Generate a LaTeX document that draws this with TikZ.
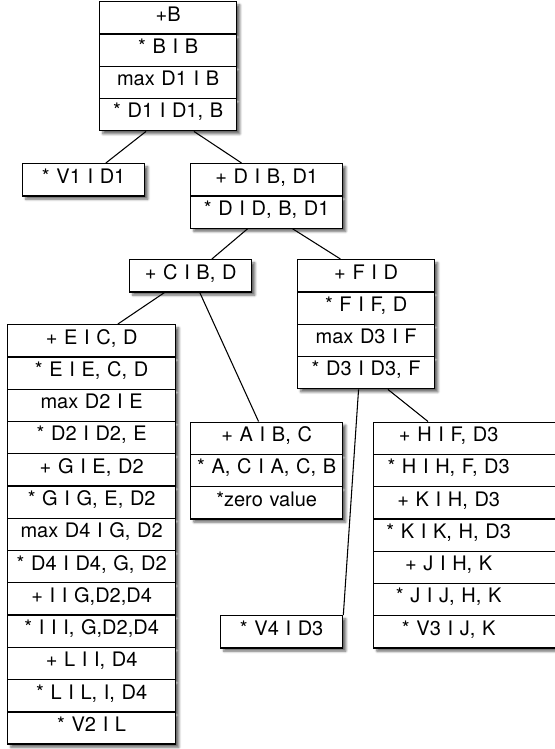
\documentclass[tikz,border=0pt]{standalone}
\usepackage{fontspec}
\setmainfont{TeX Gyre Heros}
\usetikzlibrary{shapes.multipart,shadows.blur,calc}

\newcommand{\rw}[1]{\rule[-9.1pt]{0pt}{23.2pt}#1}
\newcommand{\hw}[1]{\noindent\makebox[112.5pt]{\rule[-9.1pt]{0pt}{23.2pt}#1}}

\begin{document}
\begin{tikzpicture}[x=0.75pt,y=-0.75pt,font=\fontsize{15}{18}\selectfont,
  tbl/.style={draw,line width=1pt,fill=white,rectangle split,rectangle split parts=#1,
    inner xsep=0pt,inner ysep=0pt,align=center,anchor=north west,
    blur shadow={shadow xshift=2.4pt,shadow yshift=-2.4pt,shadow blur radius=1.8pt,
      shadow blur steps=6,shadow opacity=60}},
  edge/.style={line width=0.8pt}]
  \useasboundingbox (0,0) rectangle (554,749);
  % root and first level
  \node[tbl=4,text width=102.75pt] (b) at (99,1)
    {\rw{+B}\nodepart{two}\rw{* B I B}\nodepart{three}\rw{max D1 I B}\nodepart{four}\rw{* D1 I D1, B}};
  \node[tbl=1,text width=91.5pt] (v1) at (22,163) {\rw{* V1 I D1}};
  \node[tbl=2,text width=114pt] (d) at (190,163)
    {\rw{+ D I B, D1}\nodepart{two}\rw{* D I D, B, D1}};
  \draw[edge] ($(b.south west)!0.34!(b.south east)$) -- ($(v1.north west)!0.68!(v1.north east)$);
  \draw[edge] ($(b.south west)!0.686!(b.south east)$) -- ($(d.north west)!0.336!(d.north east)$);
  % second level
  \node[tbl=1,text width=91.5pt] (c) at (129,259) {\rw{+ C I B, D}};
  \node[tbl=4,text width=102.75pt] (f) at (297,259)
    {\rw{+ F I D}\nodepart{two}\rw{* F I F, D}\nodepart{three}\rw{max D3 I F}\nodepart{four}\rw{* D3 I D3, F}};
  \draw[edge] ($(d.south west)!0.375!(d.south east)$) -- ($(c.north west)!0.672!(c.north east)$);
  \draw[edge] ($(d.south west)!0.67!(d.south east)$) -- ($(f.north west)!0.314!(f.north east)$);
  % leaves under C
  \node[tbl=13,text width=126pt] (e) at (7,324)
    {\rw{+ E I C, D}\nodepart{two}\rw{* E I E, C, D}\nodepart{three}\rw{max D2 I E}%
     \nodepart{four}\rw{* D2 I D2, E}\nodepart{five}\rw{+ G I E, D2}\nodepart{six}\rw{* G I G, E, D2}%
     \nodepart{seven}\rw{max D4 I G, D2}\nodepart{eight}\rw{* D4 I D4, G, D2}%
     \nodepart{nine}\rw{+ I I G,D2,D4}\nodepart{ten}\rw{* I I I, G,D2,D4}%
     \nodepart{eleven}\rw{+ L I I, D4}\nodepart{twelve}\rw{* L I L, I, D4}\nodepart{thirteen}\rw{* V2 I L}};
  \node[tbl=3,text width=114pt] (a) at (190,421.5)
    {\rw{+ A I B, C}\nodepart{two}\rw{* A, C I A, C, B}\nodepart{three}\rw{*zero value}};
  \draw[edge] ($(c.south west)!0.287!(c.south east)$) -- ($(e.north west)!0.655!(e.north east)$);
  \draw[edge] ($(c.south west)!0.574!(c.south east)$) -- ($(a.north west)!0.447!(a.north east)$);
  % leaves under F
  \node[tbl=1,text width=91.5pt] (v4) at (220,615) {\rw{* V4 I D3}};
  \node[tbl=7,text width=165pt,align=left] (h) at (373,421.5)
    {\hw{+ H I F, D3}\nodepart{two}\hw{* H I H, F, D3}\nodepart{three}\hw{+ K I H, D3}%
     \nodepart{four}\hw{* K I K, H, D3}\nodepart{five}\hw{+ J I H, K}\nodepart{six}\hw{* J I J, H, K}%
     \nodepart{seven}\hw{* V3 I J, K}};
  \draw[edge] ($(f.south west)!0.445!(f.south east)$) -- (v4.north east);
  \draw[edge] ($(f.south west)!0.657!(f.south east)$) -- ($(h.north west)+(55,0)$);
\end{tikzpicture}
\end{document}
